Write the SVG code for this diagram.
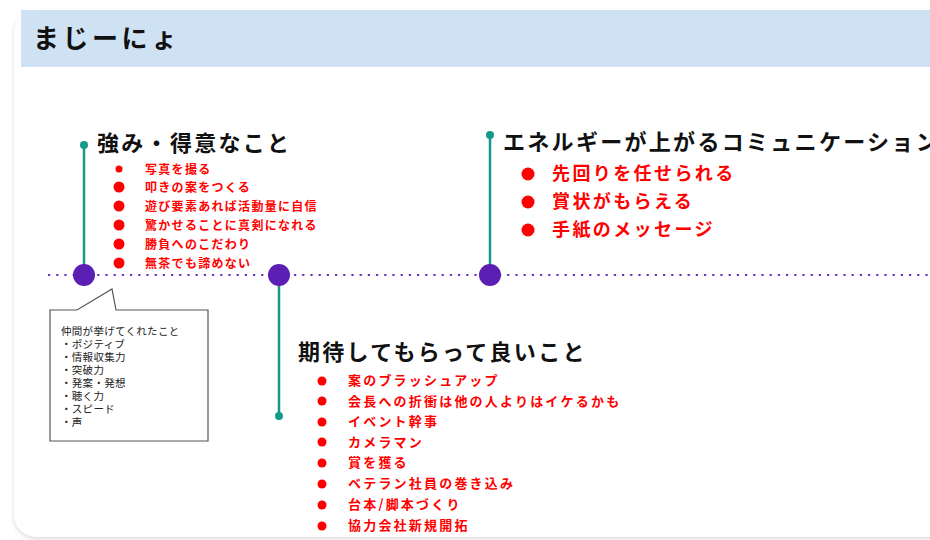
<svg xmlns="http://www.w3.org/2000/svg" width="930" height="540" viewBox="0 0 930 540">
<defs>
<style>
.jp{font-family:"Noto Sans CJK JP","Noto Sans",sans-serif}
.h{font-size:22px;font-weight:700;fill:#111;letter-spacing:2.3px}
.r1{font-size:12px;font-weight:700;fill:#ff0000;letter-spacing:1.3px}
.r2{font-size:18px;font-weight:700;fill:#ff0000;letter-spacing:2.4px}
.r3{font-size:13px;font-weight:700;fill:#ff0000;letter-spacing:2.2px}
.c{font-size:10.5px;fill:#222;letter-spacing:0.3px}
.stem{stroke:#14998a;stroke-width:2.5;fill:none}
.tip{fill:#14998a}
.hub{fill:#5c1fb4}
.bul{fill:#ff0000}
</style>
<filter id="sh" x="-5%" y="-5%" width="110%" height="110%">
<feGaussianBlur stdDeviation="2"/>
</filter>
</defs>
<rect width="930" height="540" fill="#ffffff"/>
<rect x="14" y="12" width="940" height="527" rx="22" fill="#dcdcdc" filter="url(#sh)"/>
<rect x="14" y="10" width="940" height="527" rx="22" fill="#ffffff"/>
<g id="header">
<rect x="21" y="10" width="909" height="57" fill="#cfe2f3"/>
<text class="jp" x="33" y="48" font-size="26" font-weight="700" fill="#111" letter-spacing="3.5">まじーにょ</text>
</g>
<g id="connectors">
<line x1="48" y1="275" x2="930" y2="275" stroke="#6a30c8" stroke-width="2.2" stroke-dasharray="2.2 6" />
<line class="stem" x1="84" y1="145" x2="84" y2="275"/>
<line class="stem" x1="279" y1="275" x2="279" y2="416"/>
<line class="stem" x1="490" y1="135" x2="490" y2="275"/>
</g>
<g id="node-strengths">
<circle class="tip" cx="84" cy="145" r="4"/>
<circle class="hub" cx="84" cy="275" r="11"/>
<text class="jp h" x="97" y="151">強み・得意なこと</text>
<circle class="bul" cx="119" cy="169" r="3.5"/>
<circle class="bul" cx="119" cy="187" r="5.5"/>
<circle class="bul" cx="119" cy="206" r="5.5"/>
<circle class="bul" cx="119" cy="225" r="5.5"/>
<circle class="bul" cx="119" cy="244" r="5.5"/>
<circle class="bul" cx="119" cy="263" r="5.5"/>
<text class="jp r1" x="145" y="173.5">写真を撮る</text>
<text class="jp r1" x="145" y="192">叩きの案をつくる</text>
<text class="jp r1" x="145" y="211">遊び要素あれば活動量に自信</text>
<text class="jp r1" x="145" y="230">驚かせることに真剣になれる</text>
<text class="jp r1" x="145" y="249">勝負へのこだわり</text>
<text class="jp r1" x="145" y="268">無茶でも諦めない</text>
</g>
<g id="callout">
<path d="M50,310 L77,310 L112,289 L116,310 L208,310 L208,441 L50,441 Z" fill="#ffffff" stroke="#555" stroke-width="1.2"/>
<text class="jp c" x="61" y="335">仲間が挙げてくれたこと</text>
<text class="jp c" x="61" y="348">・ポジティブ</text>
<text class="jp c" x="61" y="361">・情報収集力</text>
<text class="jp c" x="61" y="374">・突破力</text>
<text class="jp c" x="61" y="387">・発案・発想</text>
<text class="jp c" x="61" y="400">・聴く力</text>
<text class="jp c" x="61" y="413">・スピード</text>
<text class="jp c" x="61" y="426">・声</text>
</g>
<g id="node-expect">
<circle class="hub" cx="279" cy="275" r="11"/>
<circle class="tip" cx="279" cy="416" r="4"/>
<text class="jp h" x="298" y="360">期待してもらって良いこと</text>
<circle class="bul" cx="322" cy="381" r="4.5"/>
<circle class="bul" cx="322" cy="401" r="4.5"/>
<circle class="bul" cx="322" cy="422" r="4.5"/>
<circle class="bul" cx="322" cy="442" r="4.5"/>
<circle class="bul" cx="322" cy="463" r="4.5"/>
<circle class="bul" cx="322" cy="484" r="4.5"/>
<circle class="bul" cx="322" cy="505" r="4.5"/>
<circle class="bul" cx="322" cy="526" r="4.5"/>
<text class="jp r3" x="348" y="385">案のブラッシュアップ</text>
<text class="jp r3" x="348" y="405.5">会長への折衝は他の人よりはイケるかも</text>
<text class="jp r3" x="348" y="426">イベント幹事</text>
<text class="jp r3" x="348" y="446.5">カメラマン</text>
<text class="jp r3" x="348" y="467">賞を獲る</text>
<text class="jp r3" x="348" y="488">ベテラン社員の巻き込み</text>
<text class="jp r3" x="348" y="509">台本/脚本づくり</text>
<text class="jp r3" x="348" y="530">協力会社新規開拓</text>
</g>
<g id="node-energy">
<circle class="tip" cx="490" cy="135" r="4"/>
<circle class="hub" cx="490" cy="275" r="11"/>
<text class="jp h" x="503" y="150">エネルギーが上がるコミュニケーション</text>
<circle class="bul" cx="528" cy="174" r="6.5"/>
<circle class="bul" cx="528" cy="202" r="6.5"/>
<circle class="bul" cx="528" cy="230" r="6.5"/>
<text class="jp r2" x="552" y="180">先回りを任せられる</text>
<text class="jp r2" x="552" y="208">賞状がもらえる</text>
<text class="jp r2" x="552" y="236">手紙のメッセージ</text>
</g>
</svg>
